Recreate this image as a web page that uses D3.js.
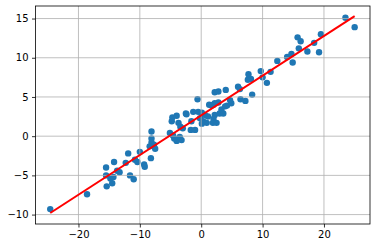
<html>
<head>
<script src="https://d3js.org/d3.v7.min.js"></script>
<style>
  body { margin: 0; background: #fff; }
  svg text { font-family: "DejaVu Sans", sans-serif; font-size: 10px; fill: #000; }
</style>
</head>
<body>
<svg id="chart" width="377" height="248"></svg>
<script>
// scatter points
var xs = [-24.6, -18.6, -15.5, -15.5, -15.4, -14.8, -14.5, -14.2, -14.3, -13.7,
  -13.3, -11.9, -12.3, -11.6, -11.0, -10.8, -10.4, -10.0, -9.3, -9.2,
  -8.2, -8.1, -8.1, -8.1, -8.4, -7.7, -7.5, -5.1, -4.6, -4.0,
  -3.5, -3.2, -4.4, -4.7, -4.0, -4.8, -3.7, -3.4, -3.0, -2.5,
  -2.4, -1.3, -1.6, -1.7, -1.0, -0.6, -0.5, -0.2, 0.1, 0.3,
  0.1, 0.6, 0.9, 1.1, 1.3, 1.7, 2.0, 2.2, 2.8, 3.3,
  3.0, 3.6, 2.2, 2.0, 1.9, 2.5, 2.2, 2.8, 4.0, 4.9,
  4.7, 4.2, 3.9, 6.0, 6.3, 6.4, 7.2, 8.3, 7.6, 8.1,
  7.7, 9.7, 10.0, 10.7, 11.3, 12.4, 14.0, 14.7, 14.9, 15.7,
  16.2, 15.9, 17.3, 18.4, 19.5, 19.2, 23.5, 25.0];
var ys = [-9.3, -7.4, -4.0, -5.0, -6.4, -5.4, -6.0, -3.3, -5.2, -4.4,
  -4.6, -2.2, -3.4, -5.0, -5.5, -3.0, -3.3, -2.0, -3.6, -3.9,
  -2.8, 0.6, -0.3, -0.8, -1.3, -1.1, -1.6, 0.4, 0.1, -0.6,
  -0.1, -0.5, -0.3, 2.4, 2.6, 1.9, 1.7, 1.2, 1.0, 2.9,
  2.8, 3.1, 1.9, 0.8, 0.8, 4.7, 3.1, 2.3, 3.0, 1.9,
  1.6, 2.7, 1.7, 2.5, 4.0, 3.9, 4.0, 4.2, 4.3, 3.4,
  2.9, 2.9, 2.7, 2.2, 1.7, 1.7, 5.6, 5.7, 5.9, 4.2,
  4.6, 3.9, 3.8, 6.3, 6.0, 4.7, 4.5, 5.3, 7.2, 7.3,
  7.9, 8.3, 7.5, 6.8, 8.2, 9.6, 10.1, 10.5, 9.4, 12.6,
  12.1, 11.2, 10.8, 11.9, 13.0, 10.7, 15.1, 13.9];

// fitted line end points
var lineX = [-24.6, 25.0];
var lineY = [-9.8, 15.3];

var xTicks = [-20, -10, 0, 10, 20];
var yTicks = [-10, -5, 0, 5, 10, 15];

var svg = d3.select("#chart");
var plotLeft = 35.5, plotRight = 370, plotTop = 6, plotBottom = 224;

var x = d3.scaleLinear().domain([-27.0, 27.5]).range([plotLeft, plotRight]);
var y = d3.scaleLinear().domain([-11.2, 16.6]).range([plotBottom, plotTop]);

var points = xs.map(function (d, i) { return { x: d, y: ys[i] }; });

// scatter (drawn under the grid, like matplotlib)
svg.append("g")
  .selectAll("circle")
  .data(points)
  .enter()
  .append("circle")
  .attr("cx", function (d) { return x(d.x); })
  .attr("cy", function (d) { return y(d.y); })
  .attr("r", 3.2)
  .attr("fill", "#1f77b4");

// grid
var grid = svg.append("g").attr("stroke", "#b0b0b0").attr("stroke-width", 0.8);
xTicks.forEach(function (t) {
  grid.append("line").attr("x1", x(t)).attr("x2", x(t)).attr("y1", plotTop).attr("y2", plotBottom);
});
yTicks.forEach(function (t) {
  grid.append("line").attr("x1", plotLeft).attr("x2", plotRight).attr("y1", y(t)).attr("y2", y(t));
});

// regression line
svg.append("path")
  .datum(lineX.map(function (d, i) { return [d, lineY[i]]; }))
  .attr("fill", "none")
  .attr("stroke", "red")
  .attr("stroke-width", 2)
  .attr("d", d3.line().x(function (d) { return x(d[0]); }).y(function (d) { return y(d[1]); }));

// axes
var fmt = function (d) { return d < 0 ? "\u2212" + Math.abs(d) : String(d); };

var xAxis = svg.append("g")
  .attr("transform", "translate(0," + plotBottom + ")")
  .call(d3.axisBottom(x).tickValues(xTicks).tickFormat(fmt).tickSizeInner(3.5).tickSizeOuter(0).tickPadding(3.5));
var yAxis = svg.append("g")
  .attr("transform", "translate(" + plotLeft + ",0)")
  .call(d3.axisLeft(y).tickValues(yTicks).tickFormat(fmt).tickSizeInner(3.5).tickSizeOuter(0).tickPadding(3.5));

[xAxis, yAxis].forEach(function (a) {
  a.select(".domain").remove();
  a.selectAll(".tick line").attr("stroke", "#000").attr("stroke-width", 0.8);
  a.selectAll(".tick text").attr("fill", "#000").style("font-size", "10px")
    .style("font-family", "'DejaVu Sans', sans-serif");
});

// frame
svg.append("rect")
  .attr("x", plotLeft).attr("y", plotTop)
  .attr("width", plotRight - plotLeft).attr("height", plotBottom - plotTop)
  .attr("fill", "none").attr("stroke", "#000").attr("stroke-width", 0.8);
</script>
</body>
</html>
